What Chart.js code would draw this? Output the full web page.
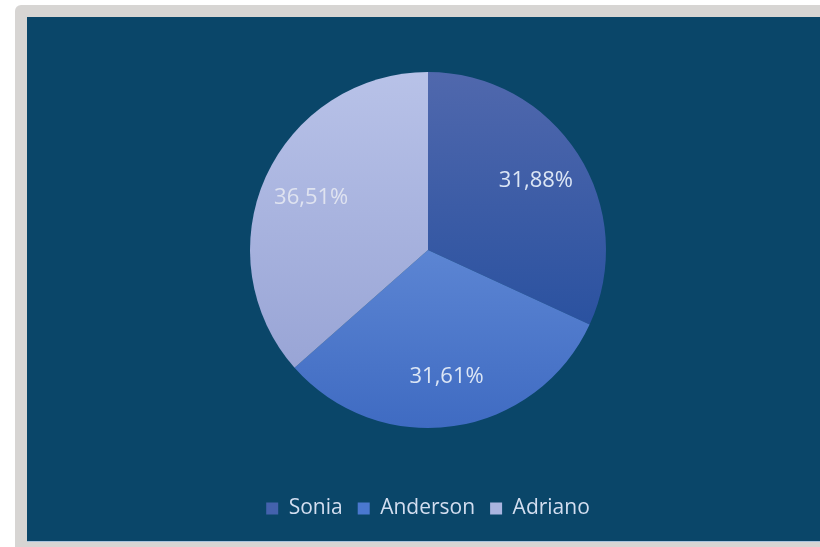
<!DOCTYPE html>
<html>
<head>
<meta charset="utf-8">
<script src="https://cdn.jsdelivr.net/npm/chart.js@4"></script>
<style>
  html, body { margin: 0; padding: 0; background: #ffffff; }
  #moldura {
    position: absolute; left: 15px; top: 5px; width: 805px; height: 542px;
    background: #d7d5d3; border-top-left-radius: 6px;
  }
  #painel {
    position: absolute; left: 27px; top: 17px; width: 793px; height: 524px;
    background: #0a4669; border-bottom: 1px solid #a9c3dc;
  }
</style>
</head>
<body>
<div id="moldura"></div>
<div id="painel"><canvas id="grafico" width="793" height="524"></canvas></div>
<script>
const nomes = ['Sonia', 'Anderson', 'Adriano'];
const percentuais = [31.88, 31.61, 36.51];
const rotulos = ['31,88%', '31,61%', '36,51%'];

// cores: [topo, base] de cada fatia
const coresFatia = [
    ['#5068ad', '#2b52a0'],
    ['#5c85d3', '#3f6bc2'],
    ['#b8c2e8', '#98a4d5']
];
const paradas = [[0, 0.7], [0.5, 1], [0, 0.85]];
const coresLegenda = ['#4462ad', '#4a78cf', '#aab5e0'];
const coresRotulo = ['#dce6f5', '#dce6f5', '#dfe3f0'];

const ctx = document.getElementById('grafico').getContext('2d');

function corGradiente(context) {
    const chart = context.chart;
    const area = chart.chartArea;
    if (!area) return coresLegenda[context.dataIndex];
    const meta = chart.getDatasetMeta(0);
    const arco = meta.data[context.dataIndex];
    const r = arco && arco.outerRadius ? arco.outerRadius : 178;
    const cy = (area.top + area.bottom) / 2;
    const g = chart.ctx.createLinearGradient(0, cy - r, 0, cy + r);
    const i = context.dataIndex;
    g.addColorStop(paradas[i][0], coresFatia[i][0]);
    g.addColorStop(paradas[i][1], coresFatia[i][1]);
    return g;
}

const rotulosFatias = {
    id: 'rotulosFatias',
    afterDatasetsDraw(chart) {
        const c = chart.ctx;
        const meta = chart.getDatasetMeta(0);
        c.save();
        c.font = '22px "Open Sans"';
        c.textAlign = 'center';
        c.textBaseline = 'middle';
        meta.data.forEach((arco, i) => {
            const p = arco.getProps(['x', 'y', 'startAngle', 'endAngle', 'outerRadius']);
            const meio = (p.startAngle + p.endAngle) / 2;
            const d = p.outerRadius * 0.72;
            c.fillStyle = coresRotulo[i];
            c.fillText(rotulos[i], p.x + Math.cos(meio) * d, p.y + Math.sin(meio) * d);
        });
        c.restore();
    }
};

new Chart(ctx, {
    type: 'pie',
    data: {
        labels: nomes,
        datasets: [{
            data: percentuais,
            backgroundColor: corGradiente,
            borderWidth: 0,
            radius: 178
        }]
    },
    options: {
        responsive: false,
        animation: false,
        layout: { padding: { top: 0, left: 9, right: 0, bottom: 12 } },
        plugins: {
            legend: {
                position: 'bottom',
                labels: {
                    color: '#d3def0',
                    font: { family: '"Open Sans"', size: 21 },
                    boxWidth: 12,
                    boxHeight: 12,
                    padding: 15,
                    generateLabels(chart) {
                        return nomes.map((n, i) => ({
                            text: n,
                            fillStyle: coresLegenda[i],
                            strokeStyle: coresLegenda[i],
                            lineWidth: 0,
                            fontColor: '#d3def0',
                            index: i
                        }));
                    }
                }
            },
            tooltip: { enabled: false }
        }
    },
    plugins: [rotulosFatias]
});
</script>
</body>
</html>
